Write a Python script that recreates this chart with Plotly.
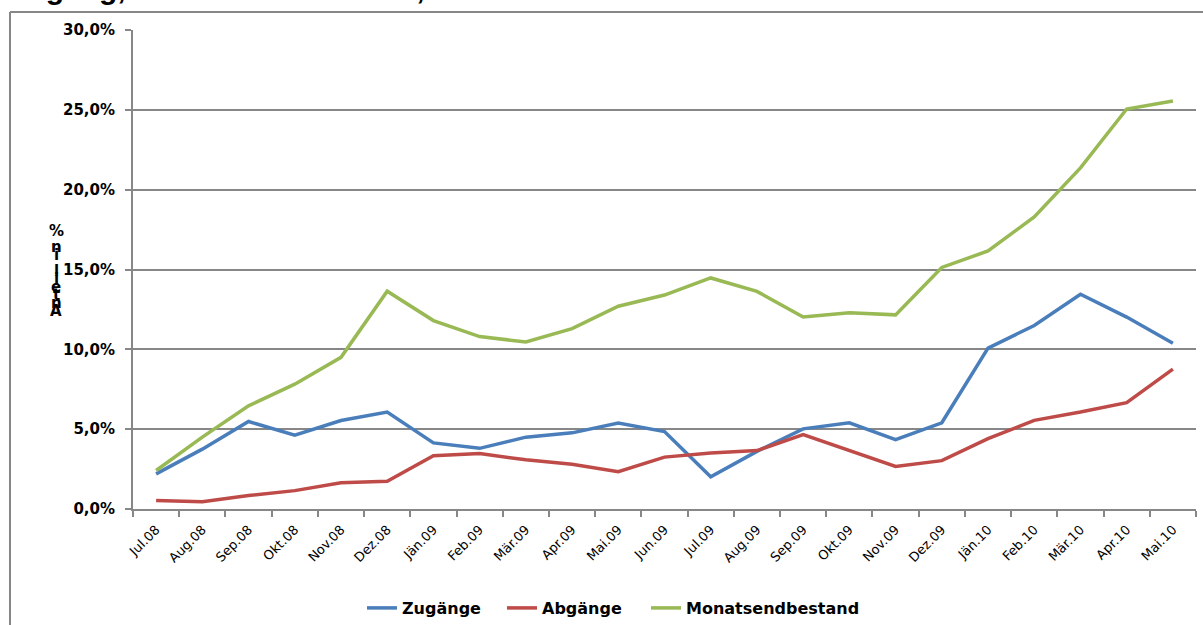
import plotly.graph_objects as go

months = ['Jul.08', 'Aug.08', 'Sep.08', 'Okt.08', 'Nov.08', 'Dez.08', 'Jän.09', 'Feb.09',
          'Mär.09', 'Apr.09', 'Mai.09', 'Jun.09', 'Jul.09', 'Aug.09', 'Sep.09', 'Okt.09',
          'Nov.09', 'Dez.09', 'Jän.10', 'Feb.10', 'Mär.10', 'Apr.10', 'Mai.10']

zugaenge = [2.2, 3.75, 5.48, 4.62, 5.54, 6.07, 4.14, 3.8, 4.5, 4.77, 5.38, 4.85,
            2.02, 3.61, 5.02, 5.4, 4.35, 5.4, 10.08, 11.49, 13.45, 12.02, 10.38]
abgaenge = [0.54, 0.46, 0.84, 1.15, 1.65, 1.74, 3.33, 3.47, 3.08, 2.8, 2.34, 3.25,
            3.51, 3.66, 4.66, 3.66, 2.67, 3.03, 4.41, 5.55, 6.07, 6.66, 8.76]
bestand = [2.41, 4.5, 6.46, 7.82, 9.5, 13.64, 11.8, 10.8, 10.46, 11.3, 12.7, 13.4,
           14.47, 13.63, 12.02, 12.29, 12.16, 15.13, 16.16, 18.29, 21.36, 25.05, 25.55]

W, H = 1203, 625
L, R, T, B = 133, 7, 30, 116
GRAY = '#878787'


def px_x(x):
    return (x - L) / (W - L - R)


def px_y(y):
    return (H - B - y) / (H - T - B)


fig = go.Figure()
series = [('Zugänge', zugaenge, '#4A7EBB', 'legend', 362),
          ('Abgänge', abgaenge, '#BE4B48', 'legend2', 502),
          ('Monatsendbestand', bestand, '#98B954', 'legend3', 646)]
legends = {}
for name, vals, col, leg, lx in series:
    fig.add_trace(go.Scatter(x=months, y=vals, name=name, mode='lines', legend=leg,
                             line=dict(color=col, width=3.5)))
    legends[leg] = dict(orientation='h', x=px_x(lx), xanchor='left', y=px_y(608),
                        yanchor='middle', bgcolor='rgba(0,0,0,0)',
                        font=dict(family='DejaVu Sans', size=16, color='black', weight='bold'))

fig.update_xaxes(type='category', range=[-0.5, len(months) - 0.5], tickson='boundaries',
                 ticks='outside', ticklen=6, tickcolor=GRAY, tickwidth=2,
                 showline=True, linecolor=GRAY, linewidth=2, showgrid=False,
                 tickangle=-45, ticklabelstandoff=6, automargin=False,
                 tickfont=dict(family='DejaVu Sans', size=13, color='black'))
fig.update_yaxes(range=[0, 30], dtick=5, tickformat='.1f', ticksuffix='%',
                 ticks='outside', ticklen=6, tickcolor=GRAY, tickwidth=2,
                 showline=True, linecolor=GRAY, linewidth=2, ticklabelstandoff=7,
                 showgrid=True, gridcolor=GRAY, gridwidth=2, zeroline=False, automargin=False,
                 tickfont=dict(family='DejaVu Sans', size=15, color='black', weight='bold'))

# outer chart frame (top + left edges visible)
fig.add_shape(type='line', xref='paper', yref='paper', x0=px_x(10), x1=px_x(1210),
              y0=px_y(12), y1=px_y(12), line=dict(color=GRAY, width=2))
fig.add_shape(type='line', xref='paper', yref='paper', x0=px_x(10), x1=px_x(10),
              y0=px_y(12), y1=px_y(640), line=dict(color=GRAY, width=2))

# clipped title at the very top
fig.add_annotation(text='Zugang, Abbau und Bestand,', xref='paper', yref='paper',
                   x=px_x(8), y=px_y(6), xanchor='left', yanchor='bottom', showarrow=False,
                   borderpad=0, font=dict(family='Liberation Sans', size=30, color='black',
                                          weight='bold'))

# y-axis title, stacked letters
ytitle = 'Anteil in %'
for k, ch in enumerate(ytitle):
    if ch == ' ':
        continue
    fig.add_annotation(text=ch, xref='paper', yref='paper', x=px_x(56), y=px_y(311 - 8 * k),
                       showarrow=False, xanchor='center', yanchor='middle',
                       font=dict(family='DejaVu Sans', size=15, color='black', weight='bold'))

fig.update_layout(
    width=W, height=H,
    margin=dict(l=L, r=R, t=T, b=B, autoexpand=False),
    separators=',.',
    plot_bgcolor='white', paper_bgcolor='white',
    showlegend=True,
    **legends,
)

fig.write_html('out.html', config={'displayModeBar': False},
               post_script="document.body.style.margin='0';")
